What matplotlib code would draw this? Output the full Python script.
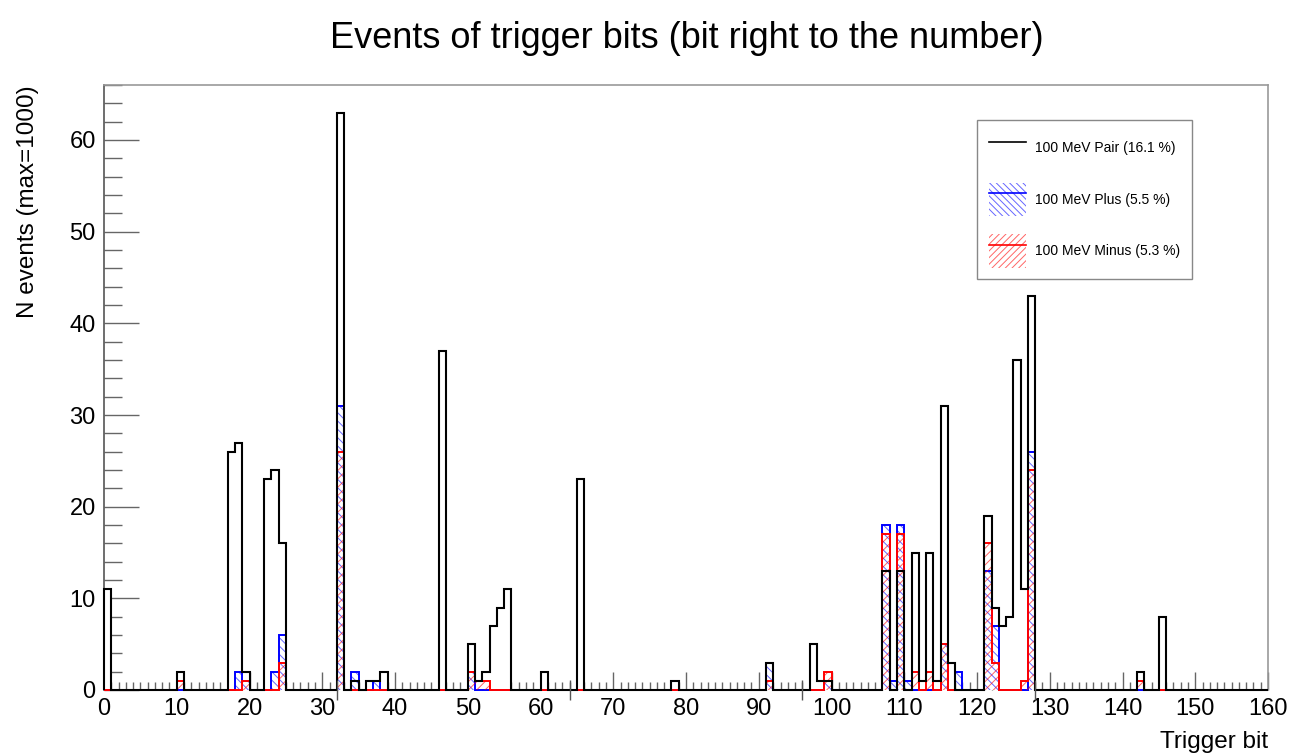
import matplotlib
matplotlib.use("Agg")
import matplotlib.pyplot as plt
import numpy as np
from matplotlib.patches import Patch
from matplotlib.lines import Line2D

plt.rcParams['font.family'] = ['Liberation Sans', 'DejaVu Sans']
plt.rcParams['hatch.linewidth'] = 0.7

# trigger bits 0..159, one bin per bit; only non-empty bins listed
n_bits = 160

pair_bins = [0, 10, 17, 18, 19, 22, 23, 24, 32, 34, 36, 37, 38, 46, 50, 51, 52, 53, 54, 55,
             60, 65, 78, 91, 97, 98, 99, 107, 109, 111, 112, 113, 114, 115, 116,
             121, 122, 123, 124, 125, 126, 127, 142, 145]
pair_counts = [11, 2, 26, 27, 2, 23, 24, 16, 63, 1, 1, 1, 2, 37, 5, 1, 2, 7, 9, 11,
               2, 23, 1, 3, 5, 1, 1, 13, 13, 15, 1, 15, 1, 31, 3,
               19, 9, 7, 8, 36, 11, 43, 2, 8]

plus_bins = [18, 19, 23, 24, 32, 34, 37, 50, 91, 99, 107, 108, 109, 110, 115, 117, 121, 122, 127]
plus_counts = [2, 1, 2, 6, 31, 2, 1, 2, 3, 1, 18, 1, 18, 1, 5, 2, 13, 7, 26]

minus_bins = [10, 19, 24, 32, 50, 51, 52, 91, 99, 107, 109, 111, 113, 115, 121, 122, 126, 127, 142]
minus_counts = [1, 1, 3, 26, 2, 1, 1, 1, 2, 17, 17, 2, 2, 5, 16, 3, 1, 24, 1]

word_edges = [32, 64, 96, 128]

labels = ['100 MeV Pair (16.1 %)', '100 MeV Plus (5.5 %)', '100 MeV Minus (5.3 %)']


def fill_bins(bins, counts):
    h = np.zeros(n_bits)
    h[bins] = counts
    return h


pair = fill_bins(pair_bins, pair_counts)
plus = fill_bins(plus_bins, plus_counts)
minus = fill_bins(minus_bins, minus_counts)
edges = np.arange(n_bits + 1)

blue_hatch = (0.0, 0.0, 1.0, 0.6)
red_hatch = (1.0, 0.0, 0.0, 0.6)

fig = plt.figure(figsize=(12.92, 7.56), dpi=100)
ax = fig.add_axes([104 / 1292, 66 / 756, 1164 / 1292, 605 / 756])
ax.set_axisbelow(True)

# white body of the pair histogram hides the ticks behind it
ax.bar(edges[:-1], pair, width=1, align='edge', color='white', linewidth=0, zorder=1)

ax.bar(edges[:-1], plus, width=1, align='edge', facecolor='none', edgecolor=blue_hatch,
       hatch='\\\\\\\\', linewidth=0, zorder=2)
ax.stairs(plus, edges, color='blue', lw=1.4, zorder=3, clip_on=False)
ax.bar(edges[:-1], minus, width=1, align='edge', facecolor='none', edgecolor=red_hatch,
       hatch='////', linewidth=0, zorder=4)
ax.stairs(minus, edges, color='red', lw=1.4, zorder=5, clip_on=False)
ax.stairs(pair, edges, color='black', lw=1.5, zorder=6, clip_on=False)

ax.vlines(word_edges, -1.1, 1.1, colors='#555555', lw=1, clip_on=False, zorder=7)

ax.set_xlim(0, 160)
ax.set_ylim(0, 66)
ax.set_xticks(np.arange(0, 161, 10))
ax.set_xticks(np.arange(0, 161, 1), minor=True)
ax.set_yticks(np.arange(0, 61, 10))
ax.set_yticks(np.arange(0, 67, 2), minor=True)
ax.tick_params(axis='x', which='major', direction='in', length=13, width=1, color='#666666',
               labelsize=17, pad=6)
ax.tick_params(axis='x', which='minor', direction='in', length=6, width=1, color='#666666')
ax.tick_params(axis='y', which='major', direction='in', length=25, width=1, color='#666666',
               labelsize=17, pad=6)
ax.tick_params(axis='y', which='minor', direction='in', length=13, width=1, color='#666666')

ax.spines['bottom'].set_visible(False)
ax.spines['left'].set_color('#555555')
ax.spines['left'].set_linewidth(1.2)
for s in ['top', 'right']:
    ax.spines[s].set_color('#999999')
    ax.spines[s].set_linewidth(1.2)

fig.text(687 / 1292, 1 - 38 / 756, 'Events of trigger bits (bit right to the number)',
         ha='center', va='center', fontsize=26)
fig.text(28 / 1292, 1 - 85 / 756, 'N events (max=1000)', rotation=90,
         ha='center', va='top', fontsize=17.5)
fig.text(1268 / 1292, 1 - 742 / 756, 'Trigger bit', ha='right', va='center', fontsize=17.5)

h_pair = Line2D([], [], color='black', lw=1.2)
h_plus = (Patch(facecolor='none', edgecolor=blue_hatch, hatch='\\\\\\\\\\', lw=0),
          Line2D([], [], color='blue', lw=1.2))
h_minus = (Patch(facecolor='none', edgecolor=red_hatch, hatch='/////', lw=0),
           Line2D([], [], color='red', lw=1.2))
leg = ax.legend([h_pair, h_plus, h_minus], labels, loc='upper left',
                bbox_to_anchor=(0.75, 0.942), borderaxespad=0, fontsize=10,
                handlelength=2.7, handleheight=3.3, labelspacing=1.3, borderpad=0.85,
                handletextpad=0.65, fancybox=False, framealpha=1, edgecolor='#888888')
leg.get_frame().set_linewidth(1.0)

fig.savefig('out.png', dpi=100)
